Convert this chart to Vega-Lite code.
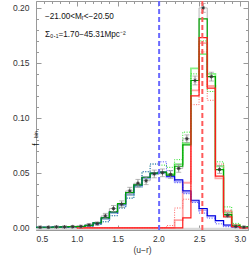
{
  "$schema": "https://vega.github.io/schema/vega-lite/v6.json",
  "width": 212,
  "height": 229,
  "autosize": {"type": "none"},
  "padding": {"left": 36, "top": 1, "right": 1, "bottom": 27},
  "background": "white",
  "config": {
    "view": {"stroke": null},
    "axis": {"labelFont": "Liberation Sans", "titleFont": "Liberation Sans", "labelColor": "#333", "titleColor": "#333", "tickColor": "#999", "domainColor": "#999", "grid": false, "titleFontWeight": "normal"},
    "text": {"font": "Liberation Sans", "color": "#111"}
  },
  "datasets": {
    "h": [
      {"x": 0.5, "g": 0.0005, "lg": 0.0004, "gd": 0.0003, "b": 0.0005, "lb": 0.0004, "bd": 0.0003, "r": null, "lr": null, "rd": null, "d": 0.0005, "lo": 0.0, "hi": 0.0012},
      {"x": 0.6, "g": 0.0005, "lg": 0.0004, "gd": 0.0003, "b": 0.0005, "lb": 0.0004, "bd": 0.0003, "r": null, "lr": null, "rd": null, "d": 0.0005, "lo": 0.0, "hi": 0.0012},
      {"x": 0.7, "g": 0.0007, "lg": 0.0006, "gd": 0.0004, "b": 0.0007, "lb": 0.0006, "bd": 0.0004, "r": null, "lr": null, "rd": null, "d": 0.0008, "lo": 0.0001, "hi": 0.0015},
      {"x": 0.8, "g": 0.0008, "lg": 0.0007, "gd": 0.0005, "b": 0.0008, "lb": 0.0007, "bd": 0.0005, "r": null, "lr": null, "rd": null, "d": 0.0008, "lo": 0.0001, "hi": 0.0015},
      {"x": 0.9, "g": 0.0010, "lg": 0.0009, "gd": 0.0006, "b": 0.0010, "lb": 0.0009, "bd": 0.0006, "r": null, "lr": null, "rd": null, "d": 0.0010, "lo": 0.0002, "hi": 0.0018},
      {"x": 1.0, "g": 0.0012, "lg": 0.0011, "gd": 0.0008, "b": 0.0012, "lb": 0.0011, "bd": 0.0008, "r": 0, "lr": 0, "rd": 0, "d": 0.0012, "lo": 0.0003, "hi": 0.0021},
      {"x": 1.1, "g": 0.0022, "lg": 0.0018, "gd": 0.0014, "b": 0.0022, "lb": 0.0018, "bd": 0.0014, "r": 0, "lr": 0, "rd": 0, "d": 0.0025, "lo": 0.0013, "hi": 0.0037},
      {"x": 1.2, "g": 0.0045, "lg": 0.0040, "gd": 0.0030, "b": 0.0045, "lb": 0.0040, "bd": 0.0030, "r": 0, "lr": 0, "rd": 0, "d": 0.0038, "lo": 0.0024, "hi": 0.0052},
      {"x": 1.3, "g": 0.0090, "lg": 0.0082, "gd": 0.0055, "b": 0.0090, "lb": 0.0082, "bd": 0.0055, "r": 0, "lr": 0, "rd": 0, "d": 0.0108, "lo": 0.0085, "hi": 0.0131},
      {"x": 1.4, "g": 0.0145, "lg": 0.0135, "gd": 0.0110, "b": 0.0145, "lb": 0.0135, "bd": 0.0110, "r": 0, "lr": 0, "rd": 0, "d": 0.0175, "lo": 0.0147, "hi": 0.0203},
      {"x": 1.5, "g": 0.0220, "lg": 0.0205, "gd": 0.0180, "b": 0.0220, "lb": 0.0205, "bd": 0.0180, "r": 0, "lr": 0, "rd": 0, "d": 0.0215, "lo": 0.0185, "hi": 0.0245},
      {"x": 1.6, "g": 0.0320, "lg": 0.0300, "gd": 0.0270, "b": 0.0320, "lb": 0.0300, "bd": 0.0270, "r": 0, "lr": 0, "rd": 0, "d": 0.0335, "lo": 0.0302, "hi": 0.0368},
      {"x": 1.7, "g": 0.0390, "lg": 0.0375, "gd": 0.0380, "b": 0.0390, "lb": 0.0375, "bd": 0.0380, "r": 0, "lr": 0, "rd": 0, "d": 0.0405, "lo": 0.0370, "hi": 0.0440},
      {"x": 1.8, "g": 0.0460, "lg": 0.0450, "gd": 0.0510, "b": 0.0460, "lb": 0.0450, "bd": 0.0510, "r": 0, "lr": 0, "rd": 0, "d": 0.0428, "lo": 0.0393, "hi": 0.0463},
      {"x": 1.9, "g": 0.0497, "lg": 0.0490, "gd": 0.0580, "b": 0.0497, "lb": 0.0490, "bd": 0.0580, "r": 0, "lr": 0, "rd": 0, "d": 0.0490, "lo": 0.0455, "hi": 0.0525},
      {"x": 2.0, "g": 0.0506, "lg": 0.0500, "gd": 0.0570, "b": 0.0506, "lb": 0.0500, "bd": 0.0600, "r": 0, "lr": 0, "rd": 0, "d": 0.0500, "lo": 0.0465, "hi": 0.0535},
      {"x": 2.1, "g": 0.0480, "lg": 0.0490, "gd": 0.0550, "b": 0.0470, "lb": 0.0460, "bd": 0.0520, "r": 0, "lr": 0, "rd": 0.002, "d": 0.0485, "lo": 0.0450, "hi": 0.0520},
      {"x": 2.2, "g": 0.0560, "lg": 0.0580, "gd": 0.0620, "b": 0.0436, "lb": 0.0420, "bd": 0.0410, "r": 0, "lr": 0.007, "rd": 0.018, "d": 0.0540, "lo": 0.0505, "hi": 0.0575},
      {"x": 2.3, "g": 0.0755, "lg": 0.0770, "gd": 0.0870, "b": 0.0336, "lb": 0.0320, "bd": 0.0310, "r": 0.009, "lr": 0.041, "rd": 0.026, "d": 0.0810, "lo": 0.0775, "hi": 0.0845},
      {"x": 2.4, "g": 0.1340, "lg": 0.1450, "gd": 0.1400, "b": 0.0250, "lb": 0.0240, "bd": 0.0230, "r": 0.120, "lr": 0.125, "rd": 0.112, "d": 0.1340, "lo": 0.1300, "hi": 0.1380},
      {"x": 2.5, "g": 0.1900, "lg": 0.1580, "gd": 0.1700, "b": 0.0175, "lb": 0.0160, "bd": 0.0134, "r": 0.173, "lr": 0.168, "rd": 0.160, "d": 0.2000, "lo": 0.1960, "hi": 0.2040},
      {"x": 2.6, "g": 0.1376, "lg": 0.1400, "gd": 0.1240, "b": 0.0110, "lb": 0.0105, "bd": 0.0088, "r": 0.127, "lr": 0.129, "rd": 0.116, "d": 0.1375, "lo": 0.1335, "hi": 0.1415},
      {"x": 2.7, "g": 0.0530, "lg": 0.0560, "gd": 0.0600, "b": 0.0067, "lb": 0.0060, "bd": 0.0036, "r": 0.047, "lr": 0.045, "rd": 0.058, "d": 0.0530, "lo": 0.0495, "hi": 0.0565},
      {"x": 2.8, "g": 0.0120, "lg": 0.0140, "gd": 0.0190, "b": 0.0025, "lb": 0.0020, "bd": 0.0010, "r": 0.010, "lr": 0.015, "rd": 0.016, "d": 0.0113, "lo": 0.0093, "hi": 0.0133},
      {"x": 2.9, "g": 0.0020, "lg": 0.0025, "gd": 0.0040, "b": 0.0010, "lb": 0.0008, "bd": 0.0005, "r": 0.001, "lr": 0.002, "rd": 0.003, "d": 0.0012, "lo": 0.0004, "hi": 0.0020},
      {"x": 3.0, "g": 0.0008, "lg": 0.0008, "gd": 0.0010, "b": 0.0005, "lb": 0.0004, "bd": 0.0003, "r": 0, "lr": 0, "rd": 0, "d": 0.0006, "lo": 0.0001, "hi": 0.0011},
      {"x": 3.1, "g": 0.0008, "lg": 0.0008, "gd": 0.0010, "b": 0.0005, "lb": 0.0004, "bd": 0.0003, "r": 0, "lr": 0, "rd": 0, "d": null, "lo": null, "hi": null}
    ],
    "band": [{"x": 0.5, "x2": 3.1, "y": -0.002, "y2": 0}],
    "ann": [
      {"x": 0.61, "y": 0.192, "t": "−21.00<Mᵣ<−20.50"},
      {"x": 0.61, "y": 0.1755, "t": "Σ₀.₁=1.70−45.31Mpc⁻²"}
    ],
    "vl": [{"v": 2.01, "c": "blue"}, {"v": 2.54, "c": "red"}]
  },
  "resolve": {"axis": {"x": "independent", "y": "independent"}},
  "layer": [
    {
      "data": {"name": "band"},
      "mark": {"type": "rect", "color": "#d9d9d9"},
      "encoding": {
        "x": {"field": "x", "type": "quantitative", "scale": {"domain": [0.5, 3.1], "nice": false, "zero": false},
              "axis": {"orient": "bottom", "values": [0.5, 1.0, 1.5, 2.0, 2.5, 3.0], "tickSize": -5, "format": ".1f", "labelFontSize": 8.5, "labelPadding": 9, "title": "(u−r)", "titleFontSize": 8.5, "titlePadding": 3}},
        "x2": {"field": "x2"},
        "y": {"field": "y", "type": "quantitative", "scale": {"domain": [-0.002, 0.2063], "nice": false, "zero": false},
              "axis": {"orient": "left", "values": [0, 0.05, 0.1, 0.15, 0.2], "tickSize": -5, "format": ".2f", "labelFontSize": 8.5, "labelPadding": 12, "labelFlush": false, "title": null}},
        "y2": {"field": "y2"}
      }
    },
    {
      "data": {"name": "h"},
      "mark": {"type": "line", "interpolate": "step-after", "color": "#b5b5b5", "strokeWidth": 1},
      "encoding": {
        "x": {"field": "x", "type": "quantitative", "axis": {"orient": "top", "values": [0.5, 1.0, 1.5, 2.0, 2.5, 3.0], "tickSize": -5, "labels": false, "title": null}},
        "y": {"field": "d", "type": "quantitative", "axis": {"orient": "right", "values": [0, 0.05, 0.1, 0.15, 0.2], "tickSize": -5, "labels": false, "title": null}}
      }
    },
    {
      "data": {"name": "h"},
      "mark": {"type": "line", "interpolate": "step-after", "color": "#72ee72", "strokeWidth": 1.8, "opacity": 0.85},
      "encoding": {
        "x": {"field": "x", "type": "quantitative", "axis": {"orient": "bottom", "values": [0.6,0.7,0.8,0.9,1.1,1.2,1.3,1.4,1.6,1.7,1.8,1.9,2.1,2.2,2.3,2.4,2.6,2.7,2.8,2.9,3.1], "tickSize": -2.5, "labels": false, "domain": false, "title": null}},
        "y": {"field": "lg", "type": "quantitative", "axis": {"orient": "left", "values": [0.01,0.02,0.03,0.04,0.06,0.07,0.08,0.09,0.11,0.12,0.13,0.14,0.16,0.17,0.18,0.19], "tickSize": -2.5, "labels": false, "domain": false, "title": null}}
      }
    },
    {
      "data": {"name": "h"},
      "mark": {"type": "line", "interpolate": "step-after", "color": "#9a9aff", "strokeWidth": 1.8, "opacity": 0.8},
      "encoding": {
        "x": {"field": "x", "type": "quantitative", "axis": {"orient": "top", "values": [0.6,0.7,0.8,0.9,1.1,1.2,1.3,1.4,1.6,1.7,1.8,1.9,2.1,2.2,2.3,2.4,2.6,2.7,2.8,2.9,3.1], "tickSize": -2.5, "labels": false, "domain": false, "title": null}},
        "y": {"field": "lb", "type": "quantitative", "axis": {"orient": "right", "values": [0.01,0.02,0.03,0.04,0.06,0.07,0.08,0.09,0.11,0.12,0.13,0.14,0.16,0.17,0.18,0.19], "tickSize": -2.5, "labels": false, "domain": false, "title": null}}
      }
    },
    {
      "data": {"name": "h"},
      "mark": {"type": "line", "interpolate": "step-after", "color": "#ff9090", "strokeWidth": 1.8, "opacity": 0.8},
      "encoding": {
        "x": {"field": "x", "type": "quantitative", "axis": null},
        "y": {"field": "lr", "type": "quantitative", "axis": null}
      }
    },
    {
      "data": {"name": "h"},
      "mark": {"type": "line", "interpolate": "step-after", "color": "#22e022", "strokeWidth": 1, "strokeDash": [1, 1.5]},
      "encoding": {
        "x": {"field": "x", "type": "quantitative", "axis": null},
        "y": {"field": "gd", "type": "quantitative", "axis": null}
      }
    },
    {
      "data": {"name": "h"},
      "mark": {"type": "line", "interpolate": "step-after", "color": "#4848ff", "strokeWidth": 1, "strokeDash": [1, 1.5]},
      "encoding": {
        "x": {"field": "x", "type": "quantitative", "axis": null},
        "y": {"field": "bd", "type": "quantitative", "axis": null}
      }
    },
    {
      "data": {"name": "h"},
      "mark": {"type": "line", "interpolate": "step-after", "color": "#ff6060", "strokeWidth": 1, "strokeDash": [1, 1.5]},
      "encoding": {
        "x": {"field": "x", "type": "quantitative", "axis": null},
        "y": {"field": "rd", "type": "quantitative", "axis": null}
      }
    },
    {
      "data": {"name": "h"},
      "mark": {"type": "line", "interpolate": "step-after", "color": "#0000dd", "strokeWidth": 1.1},
      "encoding": {
        "x": {"field": "x", "type": "quantitative", "axis": null},
        "y": {"field": "b", "type": "quantitative", "axis": null}
      }
    },
    {
      "data": {"name": "h"},
      "mark": {"type": "line", "interpolate": "step-after", "color": "#00a400", "strokeWidth": 1.2},
      "encoding": {
        "x": {"field": "x", "type": "quantitative", "axis": null},
        "y": {"field": "g", "type": "quantitative", "axis": null}
      }
    },
    {
      "data": {"name": "h"},
      "mark": {"type": "line", "interpolate": "step-after", "color": "#ff1a1a", "strokeWidth": 1.2},
      "encoding": {
        "x": {"field": "x", "type": "quantitative", "axis": null},
        "y": {"field": "r", "type": "quantitative", "axis": null}
      }
    },
    {
      "data": {"name": "h"},
      "transform": [{"filter": "datum.d != null"}],
      "mark": {"type": "rule", "color": "#999", "strokeWidth": 1, "xOffset": 4.1},
      "encoding": {
        "x": {"field": "x", "type": "quantitative", "axis": null},
        "y": {"field": "lo", "type": "quantitative", "axis": null},
        "y2": {"field": "hi"}
      }
    },
    {
      "data": {"name": "h"},
      "transform": [{"filter": "datum.d != null"}, {"fold": ["lo", "hi"], "as": ["k", "yy"]}],
      "mark": {"type": "tick", "orient": "horizontal", "color": "#999", "thickness": 1, "size": 5, "xOffset": 4.1},
      "encoding": {
        "x": {"field": "x", "type": "quantitative", "axis": null},
        "y": {"field": "yy", "type": "quantitative", "axis": null}
      }
    },
    {
      "data": {"name": "h"},
      "transform": [{"filter": "datum.d != null"}],
      "mark": {"type": "point", "shape": "M-1,0L1,0M0,-1L0,1M-0.7,-0.7L0.7,0.7M-0.7,0.7L0.7,-0.7", "stroke": "#333", "strokeWidth": 0.9, "size": 14, "filled": false, "opacity": 1, "xOffset": 4.1},
      "encoding": {
        "x": {"field": "x", "type": "quantitative", "axis": null},
        "y": {"field": "d", "type": "quantitative", "axis": null}
      }
    },
    {
      "data": {"name": "vl"},
      "mark": {"type": "rule", "strokeWidth": 2, "strokeDash": [5, 3]},
      "encoding": {
        "x": {"field": "v", "type": "quantitative", "axis": null},
        "color": {"field": "c", "type": "nominal", "scale": {"domain": ["blue", "red"], "range": ["#6a6aff", "#ff5a5a"]}, "legend": null}
      }
    },
    {
      "data": {"name": "ann"},
      "mark": {"type": "text", "align": "left", "baseline": "middle", "fontSize": 8.2},
      "encoding": {
        "x": {"field": "x", "type": "quantitative", "axis": null},
        "y": {"field": "y", "type": "quantitative", "axis": null},
        "text": {"field": "t"}
      }
    },
    {
      "data": {"values": [{"t": "f"}]},
      "mark": {"type": "text", "angle": 270, "fontSize": 8.5, "align": "center", "baseline": "middle", "dx": -29, "clip": false},
      "encoding": {
        "x": {"datum": 0.5, "type": "quantitative", "axis": null},
        "y": {"datum": 0.102, "type": "quantitative", "axis": null},
        "text": {"field": "t"}
      }
    },
    {
      "data": {"values": [{"t": "bin"}]},
      "mark": {"type": "text", "angle": 270, "fontSize": 5, "align": "center", "baseline": "middle", "dx": -26, "clip": false},
      "encoding": {
        "x": {"datum": 0.5, "type": "quantitative", "axis": null},
        "y": {"datum": 0.1085, "type": "quantitative", "axis": null},
        "text": {"field": "t"}
      }
    }
  ]
}
